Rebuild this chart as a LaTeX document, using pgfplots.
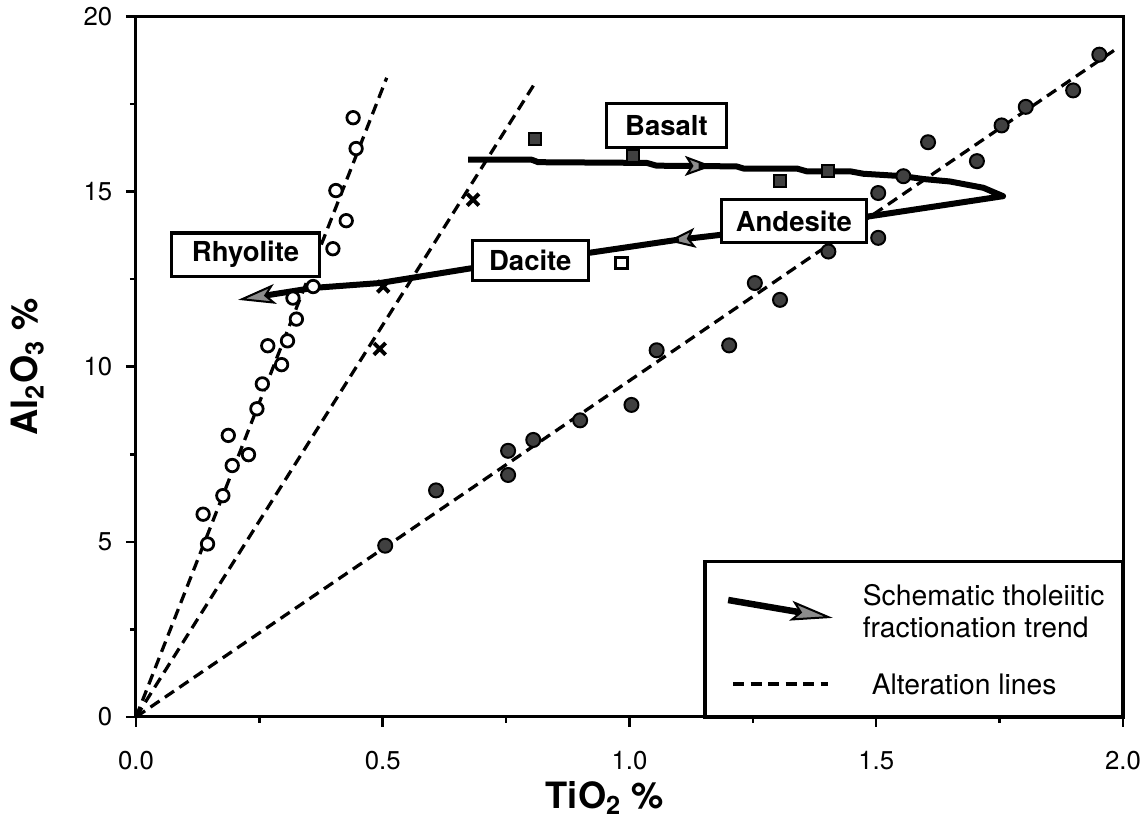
\documentclass[border=0pt]{standalone}
\usepackage{fontspec}
\setmainfont{TeX Gyre Heros}
\usepackage{pgfplots}
\pgfplotsset{compat=1.18}
\usetikzlibrary{arrows.meta}

\begin{document}
\begin{tikzpicture}
\begin{axis}[
  scale only axis, width=394.8pt, height=280.2pt,
  xmin=0, xmax=2, ymin=0, ymax=20,
  axis line style={line width=1.2pt},
  xtick={0,0.5,1,1.5,2}, ytick={0,5,10,15,20},
  minor x tick num=1, minor y tick num=1,
  tick align=outside, tick pos=left,
  major tick length=4pt, minor tick length=2.4pt,
  every tick/.style={black, line width=1pt},
  /pgf/number format/assume math mode=true,
  tick label style={font=\fontsize{10.3}{12}\selectfont},
  xticklabel style={/pgf/number format/fixed, /pgf/number format/fixed zerofill, /pgf/number format/precision=1, /tikz/yshift=-6pt},
  yticklabel style={/tikz/xshift=-2pt},
  xlabel={TiO\textsubscript{2} \%},
  ylabel={Al\textsubscript{2}O\textsubscript{3} \%},
  xlabel style={at={(axis description cs:0.475,-0.115)}, anchor=center, font=\fontsize{14.5}{17}\selectfont\bfseries},
  ylabel style={at={(axis description cs:-0.11,0.5)}, anchor=center, font=\fontsize{14.5}{17}\selectfont\bfseries},
  clip=false,
]
\coordinate (bl) at (rel axis cs:0,0);
\coordinate (tr) at (rel axis cs:1,1);

% alteration lines
\addplot[black, line width=1.3pt, dash pattern=on 4.4pt off 2.6pt] coordinates {(0,0) (0.508,18.25)};
\addplot[black, line width=1.3pt, dash pattern=on 4.4pt off 2.6pt] coordinates {(0,0) (0.809,18.11)};
\addplot[black, line width=1.3pt, dash pattern=on 4.4pt off 2.6pt] coordinates {(0,0) (1.990,19.11)};

% fractionation trend
\addplot[black, line width=2.4pt, line join=round,
  -{Stealth[length=11pt, width=8pt, inset=2.5pt, fill=black!45, line width=0.8pt]}]
  coordinates {(0.673,15.91) (0.802,15.91) (0.815,15.84) (1.035,15.82) (1.055,15.74) (1.168,15.73)};
\addplot[black, line width=2.4pt, line join=round,
  -{Stealth[length=11pt, width=8pt, inset=2.5pt, fill=black!45, line width=0.8pt]}]
  coordinates {(1.14,15.73) (1.217,15.72) (1.231,15.66) (1.339,15.66) (1.359,15.58) (1.447,15.58)
   (1.474,15.51) (1.555,15.44) (1.595,15.36) (1.649,15.29) (1.717,15.11) (1.757,14.87)
   (1.484,14.29) (1.187,13.77) (1.078,13.59)};
\addplot[black, line width=2.4pt, line join=round,
  -{Stealth[length=15pt, width=8pt, inset=3.5pt, fill=black!45, line width=0.8pt]}]
  coordinates {(1.10,13.63) (0.917,13.25) (0.683,12.82) (0.494,12.39) (0.359,12.25) (0.207,11.91)};

% rhyolite (open circles)
\addplot[only marks, mark=*, mark size=2.5pt, mark options={fill=white, draw=black, line width=1.1pt}]
  coordinates {(0.136,5.79) (0.145,4.94) (0.176,6.32) (0.187,8.04) (0.195,7.18) (0.228,7.49)
   (0.245,8.80) (0.256,9.51) (0.295,10.06) (0.267,10.60) (0.307,10.74) (0.325,11.36)
   (0.318,11.96) (0.359,12.29) (0.399,13.37) (0.426,14.17) (0.405,15.03) (0.446,16.23) (0.440,17.11)};
% crosses
\addplot[only marks, mark=x, mark size=3.3pt, mark options={draw=black, line width=1.6pt}]
  coordinates {(0.501,12.29) (0.494,10.51) (0.683,14.77)};
% filled squares
\addplot[only marks, mark=square*, mark size=2.4pt, mark options={fill=black!75, draw=black, line width=0.8pt}]
  coordinates {(0.809,16.49) (1.008,16.01) (1.305,15.29) (1.403,15.58)};
% open square
\addplot[only marks, mark=square*, mark size=2.3pt, mark options={fill=white, draw=black, line width=1.1pt}]
  coordinates {(0.984,12.96)};
% filled circles
\addplot[only marks, mark=*, mark size=2.8pt, mark options={fill=black!75, draw=black, line width=0.8pt}]
  coordinates {(0.505,4.89) (0.608,6.47) (0.754,7.60) (0.754,6.91) (0.805,7.91) (0.900,8.47)
   (1.004,8.91) (1.055,10.47) (1.202,10.61) (1.254,12.39) (1.305,11.91) (1.403,13.29)
   (1.504,14.96) (1.504,13.68) (1.555,15.44) (1.605,16.41) (1.704,15.87) (1.754,16.89)
   (1.803,17.42) (1.899,17.89) (1.952,18.91)};

% rock-type boxes
\tikzset{rockbox/.style={draw, line width=1.3pt, fill=white, inner sep=0pt, minimum height=17.4pt,
  font=\fontsize{11}{13}\selectfont\bfseries}}
\node[rockbox, minimum width=48pt] at (axis cs:1.075,16.89) {Basalt};
\node[rockbox, minimum width=58pt] at (axis cs:1.333,14.16) {Andesite};
\node[rockbox, minimum width=46.4pt, minimum height=16pt] at (axis cs:0.799,13.03) {Dacite};
\node[rockbox, minimum width=59pt] at (axis cs:0.222,13.20) {Rhyolite};

% legend
\draw[line width=1.3pt, fill=white] (axis cs:1.153,0) rectangle (axis cs:2,4.43);
\draw[black, line width=2.6pt, -{Stealth[length=17pt, width=8pt, inset=3.5pt, fill=black!45, line width=0.8pt]}]
  (axis cs:1.200,3.34) -- (axis cs:1.412,2.83);
\node[anchor=west, align=left, font=\fontsize{11.3}{12.8}\selectfont] at (axis cs:1.455,3.03)
  {Schematic tholeiitic\\fractionation trend};
\draw[black, line width=1.3pt, dash pattern=on 4.4pt off 2.6pt] (axis cs:1.210,0.94) -- (axis cs:1.402,0.94);
\node[anchor=west, font=\fontsize{11.3}{13}\selectfont] at (axis cs:1.473,0.94) {Alteration lines};
\end{axis}
\pgfresetboundingbox
\path ([shift={(-54.4pt,-47.6pt)}]bl) rectangle ([shift={(9.6pt,6.6pt)}]tr);
\end{tikzpicture}
\end{document}
